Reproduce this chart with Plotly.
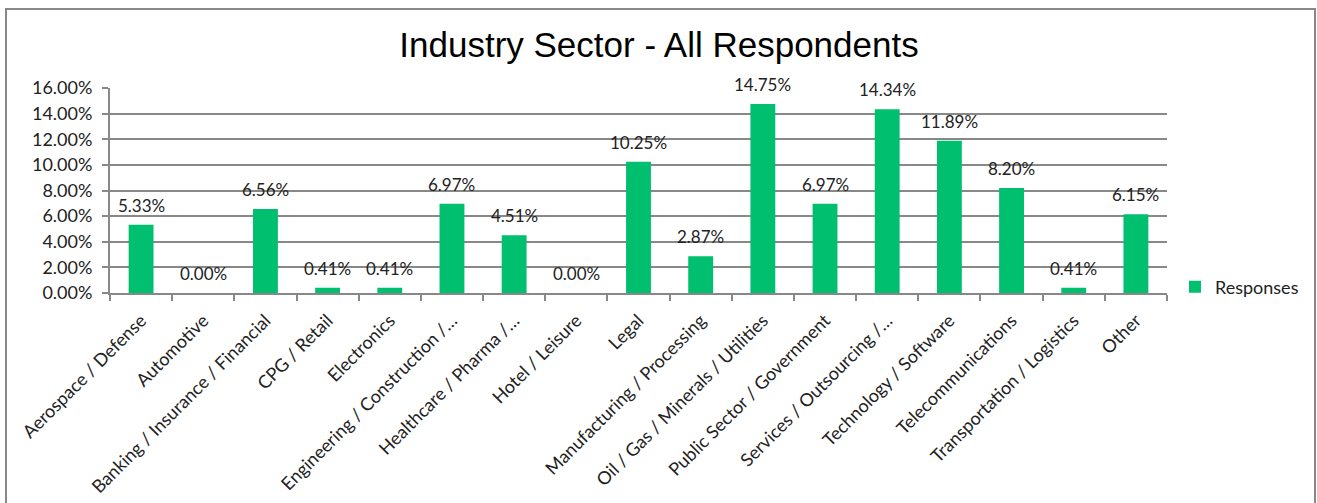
import plotly.graph_objects as go

# Survey share of respondents by industry sector (percent)
sectors = [
    "Aerospace / Defense",
    "Automotive",
    "Banking / Insurance / Financial",
    "CPG / Retail",
    "Electronics",
    "Engineering / Construction /…",
    "Healthcare / Pharma /…",
    "Hotel / Leisure",
    "Legal",
    "Manufacturing / Processing",
    "Oil / Gas / Minerals / Utilities",
    "Public Sector / Government",
    "Services / Outsourcing /…",
    "Technology / Software",
    "Telecommunications",
    "Transportation / Logistics",
    "Other",
]
responses = [5.33, 0.00, 6.56, 0.41, 0.41, 6.97, 4.51, 0.00, 10.25, 2.87,
             14.75, 6.97, 14.34, 11.89, 8.20, 0.41, 6.15]
y_ticks = [0, 2, 4, 6, 8, 10, 12, 14, 16]

GREEN = "#00BF6F"
GRID = "#888888"
TEXT = "#222222"
FONT = "Lato"

W, H = 1317, 503
L, R, T, B = 110, 150, 88, 210
pw, ph = W - L - R, H - T - B

fig = go.Figure(
    go.Bar(
        x=sectors,
        y=responses,
        name="Responses",
        marker=dict(color=GREEN, line=dict(width=0)),
        showlegend=True,
    )
)

# value labels above each bar
value_labels = [
    dict(
        x=s,
        y=v,
        xref="x",
        yref="y",
        text=f"{v:.2f}%",
        showarrow=False,
        yanchor="bottom",
        yshift=7,
        font=dict(family=FONT, size=17, color=TEXT),
    )
    for s, v in zip(sectors, responses)
]

fig.update_layout(
    width=W,
    height=H,
    margin=dict(l=L, r=R, t=T, b=B, autoexpand=False),
    paper_bgcolor="white",
    plot_bgcolor="white",
    bargap=0.6,
    title=dict(
        text="Industry Sector - All Respondents",
        font=dict(family="Liberation Sans", size=35, color="black"),
        x=659 / W,
        xanchor="center",
        y=1 - 45 / H,
        yanchor="middle",
    ),
    showlegend=True,
    legend=dict(
        x=(1175 - L) / pw,
        xanchor="left",
        y=(H - B - 287) / ph,
        yanchor="middle",
        font=dict(family=FONT, size=18, color=TEXT),
        bgcolor="rgba(0,0,0,0)",
        itemwidth=30,
    ),
    annotations=value_labels,
    xaxis=dict(
        type="category",
        tickangle=-45,
        tickfont=dict(family=FONT, size=18, color=TEXT),
        ticks="outside",
        tickson="boundaries",
        ticklen=6,
        tickcolor=GRID,
        tickwidth=2,
        ticklabelstandoff=8,
        showline=True,
        linecolor=GRID,
        linewidth=2,
        showgrid=False,
        automargin=False,
    ),
    yaxis=dict(
        range=[0, 16],
        tickvals=y_ticks,
        ticktext=[f"{v:.2f}%" for v in y_ticks],
        tickfont=dict(family=FONT, size=18, color=TEXT),
        ticks="outside",
        ticklen=6,
        tickcolor=GRID,
        tickwidth=2,
        ticklabelstandoff=6,
        showline=True,
        linecolor=GRID,
        linewidth=2,
        showgrid=True,
        gridcolor=GRID,
        gridwidth=2,
        zeroline=False,
        automargin=False,
    ),
    shapes=[
        dict(
            type="rect",
            xref="paper",
            yref="paper",
            x0=(6 - L) / pw,
            x1=(1315 - L) / pw,
            y0=(H - B - 520) / ph,
            y1=(H - B - 9) / ph,
            line=dict(color=GRID, width=2),
            fillcolor="rgba(0,0,0,0)",
            layer="below",
        )
    ],
)

fig.write_html("out.html")
